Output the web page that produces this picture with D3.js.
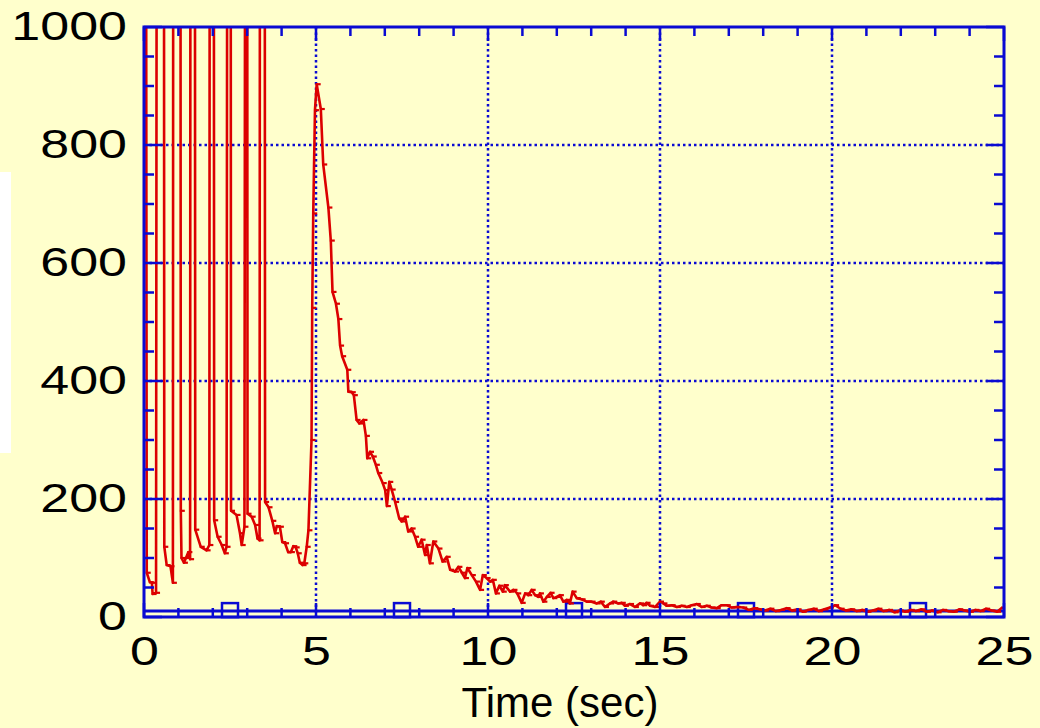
<!DOCTYPE html>
<html>
<head>
<meta charset="utf-8">
<script src="https://cdn.jsdelivr.net/npm/d3@7/dist/d3.min.js"></script>
<style>
  html, body { margin: 0; padding: 0; background: #ffffcc; }
  svg { display: block; }
  text { font-family: "Liberation Sans", Arial, sans-serif; fill: #000; }
</style>
</head>
<body>
<svg id="chart" width="1040" height="728"></svg>
<script>
// Measured response (red): time in seconds and value
const responseTime = [
  0.06, 0.08, 0.17, 0.23, 0.25, 0.35, 0.37,
  0.58, 0.59, 0.66, 0.77, 0.84, 0.85,
  1.06, 1.07, 1.09, 1.16, 1.22, 1.29, 1.34, 1.35,
  1.48, 1.49, 1.65, 1.82, 1.90, 1.91,
  2.03, 2.04, 2.14, 2.26, 2.35, 2.40, 2.42,
  2.52, 2.53, 2.69, 2.79, 2.84, 2.92, 2.94,
  3.00, 3.01, 3.13, 3.23, 3.30, 3.36, 3.37,
  3.51, 3.52, 3.62, 3.73, 3.81, 3.86, 3.95, 4.02, 4.10, 4.19, 4.27, 4.34, 4.41, 4.47, 4.53, 4.61, 4.66, 4.73, 4.78,
  4.87, 4.89, 4.92, 4.97, 5.02, 5.14, 5.21, 5.36, 5.43, 5.48, 5.58, 5.65, 5.70, 5.76, 5.91, 5.94,
  6.04, 6.10, 6.18, 6.26, 6.38, 6.45, 6.49, 6.57, 6.65, 6.74, 6.81, 6.94, 7.01, 7.06, 7.13, 7.20, 7.30,
  7.42, 7.49, 7.59, 7.68, 7.78, 7.88, 7.97, 8.07, 8.17, 8.22, 8.31, 8.41, 8.56, 8.68, 8.80, 8.90,
  9.04, 9.14, 9.24, 9.33, 9.40, 9.53, 9.65, 9.77, 9.85, 9.96, 10.06, 10.14, 10.23, 10.33, 10.43, 10.49,
  10.64, 10.74, 10.85, 10.98, 11.08, 11.17, 11.27, 11.37, 11.46, 11.51, 11.61, 11.71, 11.82, 11.90,
  12.00, 12.09, 12.19, 12.29, 12.38, 12.46, 12.58, 12.72, 12.87, 13.01, 13.16, 13.28, 13.40, 13.55,
  13.64, 13.79, 13.89, 13.98, 14.13, 14.27, 14.42, 14.51, 14.61, 14.71, 14.86, 15.00, 15.10, 15.19,
  15.34, 15.49, 15.63, 15.78, 15.92, 16.07, 16.21, 16.36, 16.50, 16.65, 16.79, 16.94, 17.08, 17.23,
  17.42, 17.58, 17.74, 17.90, 18.05, 18.21, 18.37, 18.52, 18.68, 18.84, 19.00, 19.15, 19.31, 19.47,
  19.62, 19.78, 19.94, 20.09, 20.25, 20.41, 20.56, 20.72, 20.88, 21.03, 21.19, 21.35, 21.50, 21.66,
  21.82, 21.97, 22.13, 22.29, 22.44, 22.60, 22.76, 22.91, 23.07, 23.23, 23.38, 23.54, 23.70, 23.85,
  24.01, 24.17, 24.32, 24.48, 24.64, 24.80, 24.95
];
const responseValue = [
  1300, 75, 59, 58, 39, 41, 1300,
  1300, 119, 88, 86, 58, 1300,
  1300, 180, 100, 92, 100, 110, 98, 1300,
  1300, 148, 119, 113, 122, 1300,
  1300, 164, 136, 122, 108, 119, 1300,
  1300, 180, 173, 142, 122, 153, 1300,
  1300, 175, 170, 156, 133, 130, 1300,
  1300, 195, 186, 163, 142, 154, 153, 127, 125, 110, 110, 120, 118, 108, 92, 88, 91, 119, 147,
  300, 524, 684, 859, 903, 861, 767, 694, 638, 551, 531, 505, 460, 442, 419, 382,
  381, 376, 334, 328, 334, 307, 269, 280, 272, 258, 244, 227, 215, 188, 229, 216, 195,
  167, 162, 170, 145, 150, 136, 119, 131, 105, 122, 91, 128, 116, 94, 102, 80,
  77, 85, 75, 66, 83, 71, 60, 46, 71, 66, 60, 63, 40, 53, 43, 54,
  43, 46, 40, 24, 40, 37, 46, 37, 34, 40, 26, 34, 41, 32,
  34, 37, 26, 29, 23, 43, 32, 30, 26, 26, 23, 26, 17, 23,
  26, 23, 24, 19, 22, 17, 23, 20, 24, 19, 17, 26, 23, 19,
  20, 17, 19, 17, 20, 22, 17, 19, 16, 15, 20, 20, 16, 17,
  16, 12, 15, 13, 11, 14, 10, 12, 15, 11, 13, 9, 12, 14,
  10, 13, 16, 20, 14, 11, 13, 10, 12, 9, 11, 14, 10, 12,
  8, 11, 9, 12, 10, 13, 9, 11, 8, 12, 10, 9, 13, 11,
  9, 12, 10, 14, 11, 9, 16, 12
];

// Reference level (blue) with its square markers
const baselineTime = [0, 25];
const baselineValue = [10, 10];
const markerTime = [2.5, 7.5, 12.5, 17.5, 22.5];

// Axis ticks
const xMajorTicks = [0, 5, 10, 15, 20, 25];
const yMajorTicks = [0, 200, 400, 600, 800, 1000];
const xLabel = "Time (sec)";

const blue = "#0a0ad2";
const red = "#dc0000";

const svg = d3.select("#chart");
const W = 1040, H = 728;
const plot = { left: 144, right: 1004, top: 27, bottom: 617 };

svg.append("rect").attr("width", W).attr("height", H).attr("fill", "#ffffcc");
// white band at the left edge
svg.append("rect").attr("x", 0).attr("y", 172).attr("width", 11).attr("height", 281).attr("fill", "#ffffff");

const x = d3.scaleLinear().domain([0, 25]).range([plot.left, plot.right]);
const y = d3.scaleLinear().domain([0, 1000]).range([plot.bottom, plot.top]);

svg.append("clipPath").attr("id", "plotClip")
  .append("rect").attr("x", plot.left).attr("y", plot.top)
  .attr("width", plot.right - plot.left).attr("height", plot.bottom - plot.top);

// dotted grid
const grid = svg.append("g");
xMajorTicks.filter(t => t > 0 && t < 25).forEach(t => {
  grid.append("line").attr("x1", x(t)).attr("x2", x(t)).attr("y1", plot.top).attr("y2", plot.bottom)
    .attr("stroke", blue).attr("stroke-width", 2.5).attr("stroke-dasharray", "2.5,3");
});
yMajorTicks.filter(v => v > 0 && v < 1000).forEach(v => {
  grid.append("line").attr("x1", plot.left).attr("x2", plot.right).attr("y1", y(v)).attr("y2", y(v))
    .attr("stroke", blue).attr("stroke-width", 2.5).attr("stroke-dasharray", "2.5,3");
});

// blue reference level
const baseData = baselineTime.map((t, i) => [t, baselineValue[i]]);
svg.append("path").datum(baseData)
  .attr("d", d3.line().x(d => x(d[0])).y(d => y(d[1])))
  .attr("fill", "none").attr("stroke", blue).attr("stroke-width", 3);
svg.append("g").selectAll("rect").data(markerTime).join("rect")
  .attr("x", d => x(d) - 8).attr("y", y(10) - 8).attr("width", 16).attr("height", 14)
  .attr("fill", "none").attr("stroke", blue).attr("stroke-width", 2.5);

// red response curve
const respData = responseTime.map((t, i) => [t, responseValue[i]]);
const respG = svg.append("g").attr("clip-path", "url(#plotClip)");
respG.append("path").datum(respData)
  .attr("d", d3.line().x(d => x(d[0])).y(d => y(d[1])))
  .attr("fill", "none").attr("stroke", red).attr("stroke-width", 2.6).attr("stroke-linejoin", "round");
respG.selectAll("line.mk").data(respData.filter(d => d[1] <= 1000)).join("line")
  .attr("class", "mk")
  .attr("x1", d => x(d[0]) - 1).attr("x2", d => x(d[0]) + 4)
  .attr("y1", d => y(d[1])).attr("y2", d => y(d[1]))
  .attr("stroke", red).attr("stroke-width", 2.2);

// frame and ticks
const axisG = svg.append("g");
axisG.append("rect").attr("x", plot.left).attr("y", plot.top)
  .attr("width", plot.right - plot.left).attr("height", plot.bottom - plot.top)
  .attr("fill", "none").attr("stroke", blue).attr("stroke-width", 3);

const xMinor = d3.range(0, 26, 1);
const yMinor = d3.range(0, 1001, 50);
xMinor.forEach(t => {
  const len = t % 5 === 0 ? 14 : 9;
  axisG.append("line").attr("x1", x(t)).attr("x2", x(t)).attr("y1", plot.bottom).attr("y2", plot.bottom - len)
    .attr("stroke", blue).attr("stroke-width", 2.5);
  axisG.append("line").attr("x1", x(t)).attr("x2", x(t)).attr("y1", plot.top).attr("y2", plot.top + len)
    .attr("stroke", blue).attr("stroke-width", 2.5);
});
yMinor.forEach(v => {
  const len = v % 200 === 0 ? 18 : 10;
  axisG.append("line").attr("x1", plot.left).attr("x2", plot.left + len).attr("y1", y(v)).attr("y2", y(v))
    .attr("stroke", blue).attr("stroke-width", 2.5);
  axisG.append("line").attr("x1", plot.right).attr("x2", plot.right - len).attr("y1", y(v)).attr("y2", y(v))
    .attr("stroke", blue).attr("stroke-width", 2.5);
});

// tick labels via d3 axes (lines hidden, text only); digits drawn wide
const fs = 40, sx = 1.3;
const yAxis = d3.axisLeft(y).tickValues(yMajorTicks).tickSize(0).tickPadding(0).tickFormat(d3.format("d"));
const gy = svg.append("g").attr("transform", `translate(${plot.left - 17},0)`).call(yAxis);
gy.select(".domain").remove();
gy.selectAll("text").attr("font-size", fs).attr("font-family", "Liberation Sans, Arial, sans-serif")
  .attr("fill", "#000").attr("x", 0).attr("transform", `scale(${sx},1)`);

const xAxis = d3.axisBottom(x).tickValues(xMajorTicks).tickSize(0).tickPadding(20).tickFormat(d3.format("d"));
const gx = svg.append("g").attr("transform", `translate(0,${plot.bottom})`).call(xAxis);
gx.select(".domain").remove();
gx.selectAll("text").attr("font-size", fs).attr("font-family", "Liberation Sans, Arial, sans-serif")
  .attr("fill", "#000").attr("transform", `scale(${sx},1)`);

svg.append("text").attr("x", 560).attr("y", 717).attr("text-anchor", "middle")
  .attr("font-size", 42).text(xLabel);
</script>
</body>
</html>
